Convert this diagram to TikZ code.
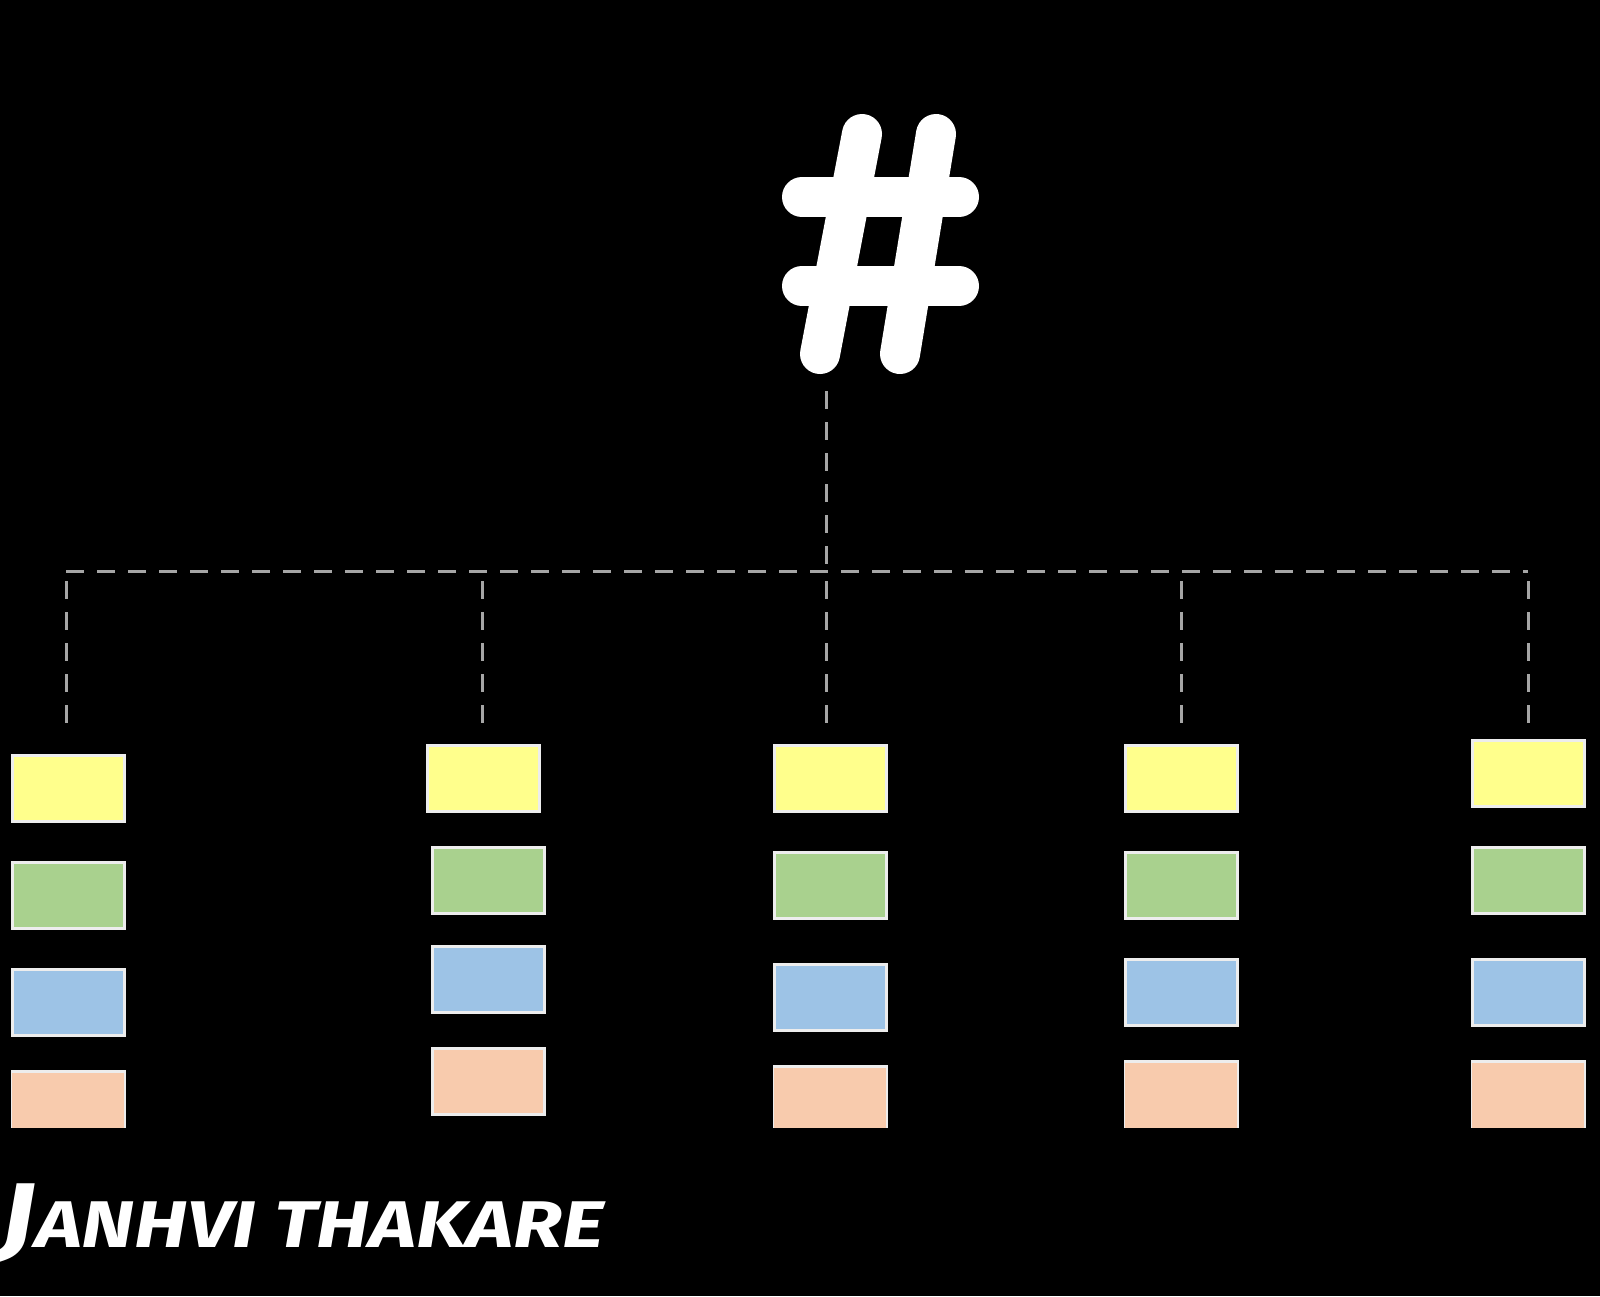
\documentclass[tikz,border=0pt]{standalone}
\usepackage{fontspec}
\newfontfamily\sigfont[FakeStretch=1.22]{Fira Sans}
\definecolor{byel}{HTML}{FFFF8C}
\definecolor{bgrn}{HTML}{A9D18E}
\definecolor{bblu}{HTML}{9DC3E6}
\definecolor{bpch}{HTML}{F8CBAD}
\definecolor{dashgray}{HTML}{A6A6A6}
\tikzset{
  cell/.style={draw=white!93!black, line width=3pt, minimum width=112pt, minimum height=66pt, inner sep=0pt},
  cut/.style={fill=#1, minimum width=112pt, inner sep=0pt},
  link/.style={draw=dashgray, line width=3pt, dash pattern=on 18pt off 13pt},
  hashstroke/.style={white, line width=40pt, line cap=round}
}
\begin{document}
\begin{tikzpicture}[x=1pt,y=-1pt]
\path[fill=black, use as bounding box] (0,0) rectangle (1600,1296);
% hash symbol
\node[minimum width=204pt, minimum height=272pt, inner sep=0pt, fill=black,
  path picture={
    \coordinate (hc) at (path picture bounding box.center);
    \draw[hashstroke] ([shift={(-78,-46)}]hc) -- ([shift={(79,-46)}]hc);
    \draw[hashstroke] ([shift={(-78,43)}]hc) -- ([shift={(79,43)}]hc);
    \draw[hashstroke] ([shift={(-18,-109)}]hc) -- ([shift={(-60,111)}]hc);
    \draw[hashstroke] ([shift={(56,-109)}]hc) -- ([shift={(20,111)}]hc);
  }] (hash) at (880,243) {};
% junctions
\coordinate (j1) at (66,571);
\coordinate (j2) at (482,571);
\coordinate (j3) at (826,571);
\coordinate (j4) at (1181,571);
\coordinate (j5) at (1528,571);
% column 1
\node[cell, fill=byel] (c1y) at (68,788) {};
\node[cell, fill=bgrn] (c1g) at (68,895) {};
\node[cell, fill=bblu] (c1b) at (68,1002) {};
% column 2
\node[cell, fill=byel] (c2y) at (483,778) {};
\node[cell, fill=bgrn] (c2g) at (488,880) {};
\node[cell, fill=bblu] (c2b) at (488,979) {};
\node[cell, fill=bpch] (c2p) at (488,1081) {};
% column 3
\node[cell, fill=byel] (c3y) at (830,778) {};
\node[cell, fill=bgrn] (c3g) at (830,885) {};
\node[cell, fill=bblu] (c3b) at (830,997) {};
% column 4
\node[cell, fill=byel] (c4y) at (1181,778) {};
\node[cell, fill=bgrn] (c4g) at (1181,885) {};
\node[cell, fill=bblu] (c4b) at (1181,992) {};
% column 5
\node[cell, fill=byel] (c5y) at (1528,773) {};
\node[cell, fill=bgrn] (c5g) at (1528,880) {};
\node[cell, fill=bblu] (c5b) at (1528,992) {};
% truncated peach boxes (cut at bottom edge of the image area)
\foreach \n/\x/\t in {c1p/68/1071, c3p/830/1066, c4p/1181/1061, c5p/1528/1061}{
  \fill[white!93!black] (\x-57.5,\t-1.5) rectangle (\x+57.5,1128);
  \node[cut=bpch, minimum height={1128-\t-1.5}, anchor=north] (\n) at (\x,\t+1.5) {};
}
% connectors
\draw[link] (hash.south -| j3) ++(0,12) -- (j3);
\draw[link] (j1) -- (j5);
\draw[link, shorten <=31pt] (c1y.north -| j1) -- (j1);
\draw[link, shorten <=21pt] (c2y.north -| j2) -- (j2);
\draw[link, shorten <=21pt] (c3y.north -| j3) -- (j3);
\draw[link, shorten <=21pt] (c4y.north) -- (j4);
\draw[link, shorten <=16pt] (c5y.north) -- (j5);
% signature
\node[anchor=base west, inner sep=0pt, white] (sig) at (0,1247)
  {\sigfont\bfseries\itshape{\fontsize{92}{92}\selectfont J}{\fontsize{66}{66}\selectfont ANHVI THAKARE}};
\end{tikzpicture}
\end{document}
